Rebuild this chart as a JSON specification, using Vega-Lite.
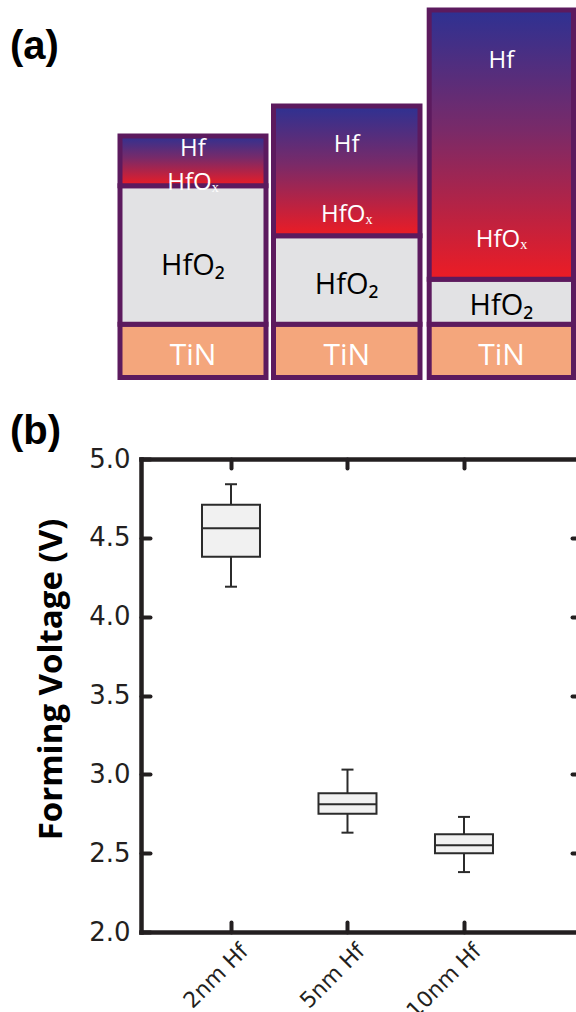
{
  "$schema": "https://vega.github.io/schema/vega-lite/v6.json",
  "background": "white",
  "padding": {"left": 10, "top": 0, "right": 0, "bottom": 0},
  "bounds": "flush",
  "spacing": 0,
  "config": {
    "view": {"stroke": null},
    "axis": {"grid": false, "domainColor": "#231f20", "tickColor": "#231f20", "labelColor": "#231f20", "titleColor": "#000000"}
  },
  "datasets": {
    "stacks": [
      {"stack": 1, "layer": "TiN", "x0": 120, "x1": 266, "y0": 0, "y1": 53.3},
      {"stack": 1, "layer": "HfO2", "x0": 120, "x1": 266, "y0": 53.3, "y1": 191.8},
      {"stack": 1, "layer": "Hf", "x0": 120, "x1": 266, "y0": 191.8, "y1": 241.5},
      {"stack": 2, "layer": "TiN", "x0": 273.5, "x1": 420, "y0": 0, "y1": 53.3},
      {"stack": 2, "layer": "HfO2", "x0": 273.5, "x1": 420, "y0": 53.3, "y1": 141.7},
      {"stack": 2, "layer": "Hf", "x0": 273.5, "x1": 420, "y0": 141.7, "y1": 271.5},
      {"stack": 3, "layer": "TiN", "x0": 429.2, "x1": 573.5, "y0": 0, "y1": 53.3},
      {"stack": 3, "layer": "HfO2", "x0": 429.2, "x1": 573.5, "y0": 53.3, "y1": 98.3},
      {"stack": 3, "layer": "Hf", "x0": 429.2, "x1": 573.5, "y0": 98.3, "y1": 367.5}
    ],
    "labels": [
      {"stack": 1, "kind": "Hf", "text": "Hf", "x": 193, "y": 221.5},
      {"stack": 1, "kind": "HfOx", "text": "HfOₓ", "x": 193, "y": 187.5},
      {"stack": 1, "kind": "HfO2", "text": "HfO₂", "x": 193, "y": 102.5},
      {"stack": 1, "kind": "TiN", "text": "TiN", "x": 193, "y": 12.5},
      {"stack": 2, "kind": "Hf", "text": "Hf", "x": 346.75, "y": 225.5},
      {"stack": 2, "kind": "HfOx", "text": "HfOₓ", "x": 346.75, "y": 155.5},
      {"stack": 2, "kind": "HfO2", "text": "HfO₂", "x": 346.75, "y": 83.5},
      {"stack": 2, "kind": "TiN", "text": "TiN", "x": 346.75, "y": 12.5},
      {"stack": 3, "kind": "Hf", "text": "Hf", "x": 501.5, "y": 309.5},
      {"stack": 3, "kind": "HfOx", "text": "HfOₓ", "x": 501.5, "y": 130.5},
      {"stack": 3, "kind": "HfO2", "text": "HfO₂", "x": 501.5, "y": 62.5},
      {"stack": 3, "kind": "TiN", "text": "TiN", "x": 501.5, "y": 12.5}
    ],
    "tags": [
      {"tag": "(a)", "x": 10, "y": 318.5},
      {"tag": "(b)", "x": 10, "y": -66.5}
    ],
    "forming": [
      {"sample": "2nm Hf", "min": 4.19, "q1": 4.38, "median": 4.56, "q3": 4.71, "max": 4.84},
      {"sample": "5nm Hf", "min": 2.63, "q1": 2.75, "median": 2.81, "q3": 2.88, "max": 3.03},
      {"sample": "10nm Hf", "min": 2.38, "q1": 2.5, "median": 2.55, "q3": 2.62, "max": 2.73}
    ]
  },
  "vconcat": [
    {
      "width": 435,
      "height": 459,
      "layer": [
        {
          "data": {"name": "stacks"},
          "transform": [{"filter": "datum.layer !== 'Hf'"}],
          "mark": {"type": "rect", "stroke": "#5c1a5e", "strokeWidth": 5},
          "encoding": {
            "x": {"field": "x0", "type": "quantitative", "scale": {"domain": [141, 576], "nice": false, "zero": false}, "axis": null},
            "x2": {"field": "x1"},
            "y": {"field": "y0", "type": "quantitative", "scale": {"domain": [-81.5, 377.5], "nice": false, "zero": false}, "axis": null},
            "y2": {"field": "y1"},
            "color": {"field": "layer", "type": "nominal", "scale": {"domain": ["HfO2", "TiN"], "range": ["#e2e2e4", "#f4a67c"]}, "legend": null}
          }
        },
        {
          "data": {"name": "stacks"},
          "transform": [{"filter": "datum.layer === 'Hf'"}],
          "mark": {
            "type": "rect",
            "stroke": "#5c1a5e",
            "strokeWidth": 5,
            "fill": {"gradient": "linear", "x1": 0, "y1": 0, "x2": 0, "y2": 1,
              "stops": [{"offset": 0, "color": "#2e3192"}, {"offset": 0.45, "color": "#7a2a68"}, {"offset": 1, "color": "#ed1c24"}]}
          },
          "encoding": {
            "x": {"field": "x0", "type": "quantitative", "scale": {"domain": [141, 576], "nice": false, "zero": false}, "axis": null},
            "x2": {"field": "x1"},
            "y": {"field": "y0", "type": "quantitative", "scale": {"domain": [-81.5, 377.5], "nice": false, "zero": false}, "axis": null},
            "y2": {"field": "y1"}
          }
        },
        {
          "data": {"name": "labels"},
          "transform": [{"filter": "datum.kind === 'Hf' || datum.kind === 'HfOx'"}],
          "mark": {"type": "text", "font": "Open Sans", "fontSize": 24, "align": "center", "baseline": "alphabetic", "color": "#ffffff"},
          "encoding": {
            "x": {"field": "x", "type": "quantitative", "scale": {"domain": [141, 576], "nice": false, "zero": false}, "axis": null},
            "y": {"field": "y", "type": "quantitative", "scale": {"domain": [-81.5, 377.5], "nice": false, "zero": false}, "axis": null},
            "text": {"field": "text"}
          }
        },
        {
          "data": {"name": "labels"},
          "transform": [{"filter": "datum.kind === 'HfO2'"}],
          "mark": {"type": "text", "font": "Open Sans", "fontSize": 29, "align": "center", "baseline": "alphabetic", "color": "#000000"},
          "encoding": {
            "x": {"field": "x", "type": "quantitative", "scale": {"domain": [141, 576], "nice": false, "zero": false}, "axis": null},
            "y": {"field": "y", "type": "quantitative", "scale": {"domain": [-81.5, 377.5], "nice": false, "zero": false}, "axis": null},
            "text": {"field": "text"}
          }
        },
        {
          "data": {"name": "labels"},
          "transform": [{"filter": "datum.kind === 'TiN'"}],
          "mark": {"type": "text", "font": "Open Sans", "fontSize": 30, "align": "center", "baseline": "alphabetic", "color": "#ffffff"},
          "encoding": {
            "x": {"field": "x", "type": "quantitative", "scale": {"domain": [141, 576], "nice": false, "zero": false}, "axis": null},
            "y": {"field": "y", "type": "quantitative", "scale": {"domain": [-81.5, 377.5], "nice": false, "zero": false}, "axis": null},
            "text": {"field": "text"}
          }
        },
        {
          "data": {"name": "tags"},
          "mark": {"type": "text", "font": "Liberation Sans", "fontWeight": "bold", "fontSize": 40, "align": "left", "baseline": "alphabetic", "color": "#000000"},
          "encoding": {
            "x": {"field": "x", "type": "quantitative", "scale": {"domain": [141, 576], "nice": false, "zero": false}, "axis": null},
            "y": {"field": "y", "type": "quantitative", "scale": {"domain": [-81.5, 377.5], "nice": false, "zero": false}, "axis": null},
            "text": {"field": "tag"}
          }
        }
      ]
    },
    {
      "width": 435,
      "height": 473,
      "data": {"name": "forming"},
      "layer": [
        {
          "mark": {"type": "rule", "color": "#2b2b2b", "strokeWidth": 2},
          "encoding": {
            "x": {"field": "sample", "type": "nominal", "sort": null,
              "scale": {"type": "point", "domain": ["2nm Hf", "5nm Hf", "10nm Hf"], "padding": 0.867, "align": 0.4455},
              "axis": {"orient": "bottom", "title": null, "labelAngle": -45, "labelAlign": "right", "labelBaseline": "top",
                "labelFont": "DejaVu Sans", "labelFontSize": 22, "labelPadding": 18, "labelOffset": 6,
                "tickSize": -10, "tickWidth": 4, "tickCap": "round", "domainWidth": 4.5, "domainCap": "square"}},
            "y": {"field": "min", "type": "quantitative",
              "scale": {"domain": [2, 5], "nice": false, "zero": false},
              "axis": {"orient": "left", "title": "Forming Voltage (V)", "values": [2, 2.5, 3, 3.5, 4, 4.5, 5], "format": ".1f",
                "labelFont": "DejaVu Sans", "labelFontSize": 26, "labelPadding": 20,
                "tickSize": -9, "tickWidth": 4, "tickCap": "round", "domainWidth": 4.5, "domainCap": "square",
                "titleFont": "Open Sans", "titleFontWeight": "bold", "titleFontSize": 33,
                "titleX": -80, "titleY": 220, "titleBaseline": "alphabetic", "titleAngle": 270}},
            "y2": {"field": "max"}
          }
        },
        {
          "mark": {"type": "bar", "size": 58, "fill": "#f1f1f1", "stroke": "#2b2b2b", "strokeWidth": 2, "opacity": 1},
          "encoding": {
            "x": {"field": "sample", "type": "nominal", "sort": null,
              "scale": {"type": "point", "domain": ["2nm Hf", "5nm Hf", "10nm Hf"], "padding": 0.867, "align": 0.4455},
              "axis": {"orient": "top", "title": null, "labels": false, "tickSize": -9, "tickWidth": 4, "tickCap": "round", "domainWidth": 4.5, "domainCap": "square"}},
            "y": {"field": "q1", "type": "quantitative",
              "scale": {"domain": [2, 5], "nice": false, "zero": false},
              "axis": {"orient": "right", "title": null, "labels": false, "domain": false, "values": [2.5, 3, 3.5, 4, 4.5], "tickSize": -4, "tickWidth": 4, "tickCap": "round"}},
            "y2": {"field": "q3"}
          }
        },
        {
          "mark": {"type": "tick", "size": 58, "thickness": 2, "color": "#2b2b2b", "opacity": 1},
          "encoding": {
            "x": {"field": "sample", "type": "nominal", "sort": null, "scale": {"type": "point", "domain": ["2nm Hf", "5nm Hf", "10nm Hf"], "padding": 0.867, "align": 0.4455}, "axis": null},
            "y": {"field": "median", "type": "quantitative", "scale": {"domain": [2, 5], "nice": false, "zero": false}, "axis": null}
          }
        },
        {
          "mark": {"type": "tick", "size": 12, "thickness": 2, "color": "#2b2b2b", "opacity": 1},
          "encoding": {
            "x": {"field": "sample", "type": "nominal", "sort": null, "scale": {"type": "point", "domain": ["2nm Hf", "5nm Hf", "10nm Hf"], "padding": 0.867, "align": 0.4455}, "axis": null},
            "y": {"field": "min", "type": "quantitative", "scale": {"domain": [2, 5], "nice": false, "zero": false}, "axis": null}
          }
        },
        {
          "mark": {"type": "tick", "size": 12, "thickness": 2, "color": "#2b2b2b", "opacity": 1},
          "encoding": {
            "x": {"field": "sample", "type": "nominal", "sort": null, "scale": {"type": "point", "domain": ["2nm Hf", "5nm Hf", "10nm Hf"], "padding": 0.867, "align": 0.4455}, "axis": null},
            "y": {"field": "max", "type": "quantitative", "scale": {"domain": [2, 5], "nice": false, "zero": false}, "axis": null}
          }
        }
      ],
      "resolve": {"axis": {"x": "independent", "y": "independent"}}
    }
  ]
}
